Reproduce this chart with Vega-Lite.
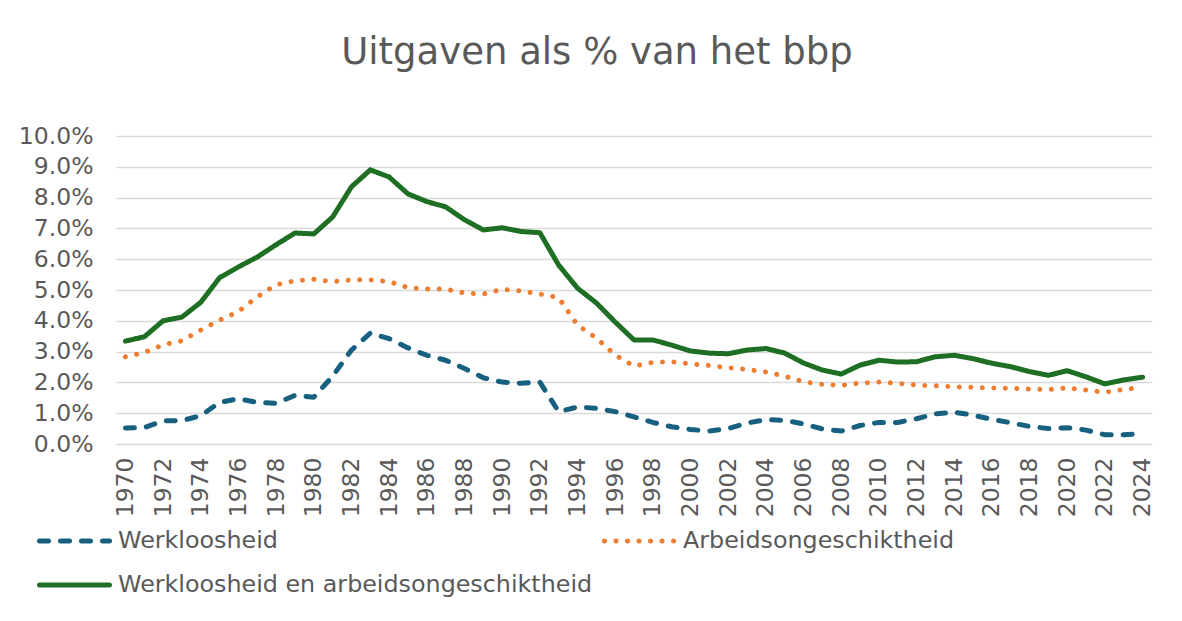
{
  "$schema": "https://vega.github.io/schema/vega-lite/v6.json",
  "autosize": {"type": "none"},
  "width": 1036,
  "height": 308,
  "padding": {"left": 116, "top": 136, "right": 30, "bottom": 177},
  "background": "white",
  "config": {
    "font": "DejaVu Sans",
    "view": {"stroke": null}
  },
  "title": {
    "text": "Uitgaven als % van het bbp",
    "fontSize": 37,
    "fontWeight": "normal",
    "color": "#595959",
    "anchor": "middle",
    "baseline": "alphabetic",
    "offset": 23,
    "dx": -37
  },
  "data": {
    "values": [
      {"jaar":1970,"reeks":"Werkloosheid","waarde":0.52},
      {"jaar":1971,"reeks":"Werkloosheid","waarde":0.53},
      {"jaar":1972,"reeks":"Werkloosheid","waarde":0.75},
      {"jaar":1973,"reeks":"Werkloosheid","waarde":0.76},
      {"jaar":1974,"reeks":"Werkloosheid","waarde":0.92},
      {"jaar":1975,"reeks":"Werkloosheid","waarde":1.35},
      {"jaar":1976,"reeks":"Werkloosheid","waarde":1.47},
      {"jaar":1977,"reeks":"Werkloosheid","waarde":1.35},
      {"jaar":1978,"reeks":"Werkloosheid","waarde":1.32},
      {"jaar":1979,"reeks":"Werkloosheid","waarde":1.58},
      {"jaar":1980,"reeks":"Werkloosheid","waarde":1.52},
      {"jaar":1981,"reeks":"Werkloosheid","waarde":2.2},
      {"jaar":1982,"reeks":"Werkloosheid","waarde":3.05},
      {"jaar":1983,"reeks":"Werkloosheid","waarde":3.6},
      {"jaar":1984,"reeks":"Werkloosheid","waarde":3.42},
      {"jaar":1985,"reeks":"Werkloosheid","waarde":3.12},
      {"jaar":1986,"reeks":"Werkloosheid","waarde":2.88},
      {"jaar":1987,"reeks":"Werkloosheid","waarde":2.72},
      {"jaar":1988,"reeks":"Werkloosheid","waarde":2.45},
      {"jaar":1989,"reeks":"Werkloosheid","waarde":2.15},
      {"jaar":1990,"reeks":"Werkloosheid","waarde":2.01},
      {"jaar":1991,"reeks":"Werkloosheid","waarde":1.97},
      {"jaar":1992,"reeks":"Werkloosheid","waarde":2.01},
      {"jaar":1993,"reeks":"Werkloosheid","waarde":1.05},
      {"jaar":1994,"reeks":"Werkloosheid","waarde":1.2},
      {"jaar":1995,"reeks":"Werkloosheid","waarde":1.16},
      {"jaar":1996,"reeks":"Werkloosheid","waarde":1.05},
      {"jaar":1997,"reeks":"Werkloosheid","waarde":0.88},
      {"jaar":1998,"reeks":"Werkloosheid","waarde":0.7},
      {"jaar":1999,"reeks":"Werkloosheid","waarde":0.56},
      {"jaar":2000,"reeks":"Werkloosheid","waarde":0.47},
      {"jaar":2001,"reeks":"Werkloosheid","waarde":0.42},
      {"jaar":2002,"reeks":"Werkloosheid","waarde":0.5},
      {"jaar":2003,"reeks":"Werkloosheid","waarde":0.68},
      {"jaar":2004,"reeks":"Werkloosheid","waarde":0.79},
      {"jaar":2005,"reeks":"Werkloosheid","waarde":0.77},
      {"jaar":2006,"reeks":"Werkloosheid","waarde":0.65},
      {"jaar":2007,"reeks":"Werkloosheid","waarde":0.49},
      {"jaar":2008,"reeks":"Werkloosheid","waarde":0.42},
      {"jaar":2009,"reeks":"Werkloosheid","waarde":0.6},
      {"jaar":2010,"reeks":"Werkloosheid","waarde":0.7},
      {"jaar":2011,"reeks":"Werkloosheid","waarde":0.7},
      {"jaar":2012,"reeks":"Werkloosheid","waarde":0.82},
      {"jaar":2013,"reeks":"Werkloosheid","waarde":0.98},
      {"jaar":2014,"reeks":"Werkloosheid","waarde":1.03},
      {"jaar":2015,"reeks":"Werkloosheid","waarde":0.94},
      {"jaar":2016,"reeks":"Werkloosheid","waarde":0.8},
      {"jaar":2017,"reeks":"Werkloosheid","waarde":0.69},
      {"jaar":2018,"reeks":"Werkloosheid","waarde":0.57},
      {"jaar":2019,"reeks":"Werkloosheid","waarde":0.5},
      {"jaar":2020,"reeks":"Werkloosheid","waarde":0.53},
      {"jaar":2021,"reeks":"Werkloosheid","waarde":0.45},
      {"jaar":2022,"reeks":"Werkloosheid","waarde":0.3},
      {"jaar":2023,"reeks":"Werkloosheid","waarde":0.3},
      {"jaar":2024,"reeks":"Werkloosheid","waarde":0.33},
      {"jaar":1970,"reeks":"Arbeidsongeschiktheid","waarde":2.83},
      {"jaar":1971,"reeks":"Arbeidsongeschiktheid","waarde":2.97},
      {"jaar":1972,"reeks":"Arbeidsongeschiktheid","waarde":3.22},
      {"jaar":1973,"reeks":"Arbeidsongeschiktheid","waarde":3.35},
      {"jaar":1974,"reeks":"Arbeidsongeschiktheid","waarde":3.7},
      {"jaar":1975,"reeks":"Arbeidsongeschiktheid","waarde":4.02},
      {"jaar":1976,"reeks":"Arbeidsongeschiktheid","waarde":4.3},
      {"jaar":1977,"reeks":"Arbeidsongeschiktheid","waarde":4.78},
      {"jaar":1978,"reeks":"Arbeidsongeschiktheid","waarde":5.17},
      {"jaar":1979,"reeks":"Arbeidsongeschiktheid","waarde":5.3},
      {"jaar":1980,"reeks":"Arbeidsongeschiktheid","waarde":5.35},
      {"jaar":1981,"reeks":"Arbeidsongeschiktheid","waarde":5.27},
      {"jaar":1982,"reeks":"Arbeidsongeschiktheid","waarde":5.33},
      {"jaar":1983,"reeks":"Arbeidsongeschiktheid","waarde":5.33},
      {"jaar":1984,"reeks":"Arbeidsongeschiktheid","waarde":5.27},
      {"jaar":1985,"reeks":"Arbeidsongeschiktheid","waarde":5.08},
      {"jaar":1986,"reeks":"Arbeidsongeschiktheid","waarde":5.03},
      {"jaar":1987,"reeks":"Arbeidsongeschiktheid","waarde":5.03},
      {"jaar":1988,"reeks":"Arbeidsongeschiktheid","waarde":4.9},
      {"jaar":1989,"reeks":"Arbeidsongeschiktheid","waarde":4.87},
      {"jaar":1990,"reeks":"Arbeidsongeschiktheid","waarde":5.02},
      {"jaar":1991,"reeks":"Arbeidsongeschiktheid","waarde":4.97},
      {"jaar":1992,"reeks":"Arbeidsongeschiktheid","waarde":4.87},
      {"jaar":1993,"reeks":"Arbeidsongeschiktheid","waarde":4.75},
      {"jaar":1994,"reeks":"Arbeidsongeschiktheid","waarde":3.86},
      {"jaar":1995,"reeks":"Arbeidsongeschiktheid","waarde":3.44},
      {"jaar":1996,"reeks":"Arbeidsongeschiktheid","waarde":2.89},
      {"jaar":1997,"reeks":"Arbeidsongeschiktheid","waarde":2.53},
      {"jaar":1998,"reeks":"Arbeidsongeschiktheid","waarde":2.65},
      {"jaar":1999,"reeks":"Arbeidsongeschiktheid","waarde":2.67},
      {"jaar":2000,"reeks":"Arbeidsongeschiktheid","waarde":2.6},
      {"jaar":2001,"reeks":"Arbeidsongeschiktheid","waarde":2.55},
      {"jaar":2002,"reeks":"Arbeidsongeschiktheid","waarde":2.48},
      {"jaar":2003,"reeks":"Arbeidsongeschiktheid","waarde":2.42},
      {"jaar":2004,"reeks":"Arbeidsongeschiktheid","waarde":2.34},
      {"jaar":2005,"reeks":"Arbeidsongeschiktheid","waarde":2.2},
      {"jaar":2006,"reeks":"Arbeidsongeschiktheid","waarde":2.02},
      {"jaar":2007,"reeks":"Arbeidsongeschiktheid","waarde":1.94},
      {"jaar":2008,"reeks":"Arbeidsongeschiktheid","waarde":1.9},
      {"jaar":2009,"reeks":"Arbeidsongeschiktheid","waarde":1.98},
      {"jaar":2010,"reeks":"Arbeidsongeschiktheid","waarde":2.01},
      {"jaar":2011,"reeks":"Arbeidsongeschiktheid","waarde":1.97},
      {"jaar":2012,"reeks":"Arbeidsongeschiktheid","waarde":1.91},
      {"jaar":2013,"reeks":"Arbeidsongeschiktheid","waarde":1.89},
      {"jaar":2014,"reeks":"Arbeidsongeschiktheid","waarde":1.86},
      {"jaar":2015,"reeks":"Arbeidsongeschiktheid","waarde":1.84},
      {"jaar":2016,"reeks":"Arbeidsongeschiktheid","waarde":1.82},
      {"jaar":2017,"reeks":"Arbeidsongeschiktheid","waarde":1.81},
      {"jaar":2018,"reeks":"Arbeidsongeschiktheid","waarde":1.78},
      {"jaar":2019,"reeks":"Arbeidsongeschiktheid","waarde":1.77},
      {"jaar":2020,"reeks":"Arbeidsongeschiktheid","waarde":1.82},
      {"jaar":2021,"reeks":"Arbeidsongeschiktheid","waarde":1.75},
      {"jaar":2022,"reeks":"Arbeidsongeschiktheid","waarde":1.68},
      {"jaar":2023,"reeks":"Arbeidsongeschiktheid","waarde":1.77},
      {"jaar":2024,"reeks":"Arbeidsongeschiktheid","waarde":1.84},
      {"jaar":1970,"reeks":"Werkloosheid en arbeidsongeschiktheid","waarde":3.34},
      {"jaar":1971,"reeks":"Werkloosheid en arbeidsongeschiktheid","waarde":3.48},
      {"jaar":1972,"reeks":"Werkloosheid en arbeidsongeschiktheid","waarde":4.0},
      {"jaar":1973,"reeks":"Werkloosheid en arbeidsongeschiktheid","waarde":4.12},
      {"jaar":1974,"reeks":"Werkloosheid en arbeidsongeschiktheid","waarde":4.6},
      {"jaar":1975,"reeks":"Werkloosheid en arbeidsongeschiktheid","waarde":5.4},
      {"jaar":1976,"reeks":"Werkloosheid en arbeidsongeschiktheid","waarde":5.75},
      {"jaar":1977,"reeks":"Werkloosheid en arbeidsongeschiktheid","waarde":6.07},
      {"jaar":1978,"reeks":"Werkloosheid en arbeidsongeschiktheid","waarde":6.47},
      {"jaar":1979,"reeks":"Werkloosheid en arbeidsongeschiktheid","waarde":6.85},
      {"jaar":1980,"reeks":"Werkloosheid en arbeidsongeschiktheid","waarde":6.82},
      {"jaar":1981,"reeks":"Werkloosheid en arbeidsongeschiktheid","waarde":7.37},
      {"jaar":1982,"reeks":"Werkloosheid en arbeidsongeschiktheid","waarde":8.35},
      {"jaar":1983,"reeks":"Werkloosheid en arbeidsongeschiktheid","waarde":8.9},
      {"jaar":1984,"reeks":"Werkloosheid en arbeidsongeschiktheid","waarde":8.67},
      {"jaar":1985,"reeks":"Werkloosheid en arbeidsongeschiktheid","waarde":8.12},
      {"jaar":1986,"reeks":"Werkloosheid en arbeidsongeschiktheid","waarde":7.87},
      {"jaar":1987,"reeks":"Werkloosheid en arbeidsongeschiktheid","waarde":7.7},
      {"jaar":1988,"reeks":"Werkloosheid en arbeidsongeschiktheid","waarde":7.28},
      {"jaar":1989,"reeks":"Werkloosheid en arbeidsongeschiktheid","waarde":6.95},
      {"jaar":1990,"reeks":"Werkloosheid en arbeidsongeschiktheid","waarde":7.02},
      {"jaar":1991,"reeks":"Werkloosheid en arbeidsongeschiktheid","waarde":6.9},
      {"jaar":1992,"reeks":"Werkloosheid en arbeidsongeschiktheid","waarde":6.86},
      {"jaar":1993,"reeks":"Werkloosheid en arbeidsongeschiktheid","waarde":5.81},
      {"jaar":1994,"reeks":"Werkloosheid en arbeidsongeschiktheid","waarde":5.06},
      {"jaar":1995,"reeks":"Werkloosheid en arbeidsongeschiktheid","waarde":4.58},
      {"jaar":1996,"reeks":"Werkloosheid en arbeidsongeschiktheid","waarde":3.96},
      {"jaar":1997,"reeks":"Werkloosheid en arbeidsongeschiktheid","waarde":3.38},
      {"jaar":1998,"reeks":"Werkloosheid en arbeidsongeschiktheid","waarde":3.38},
      {"jaar":1999,"reeks":"Werkloosheid en arbeidsongeschiktheid","waarde":3.21},
      {"jaar":2000,"reeks":"Werkloosheid en arbeidsongeschiktheid","waarde":3.02},
      {"jaar":2001,"reeks":"Werkloosheid en arbeidsongeschiktheid","waarde":2.95},
      {"jaar":2002,"reeks":"Werkloosheid en arbeidsongeschiktheid","waarde":2.93},
      {"jaar":2003,"reeks":"Werkloosheid en arbeidsongeschiktheid","waarde":3.05},
      {"jaar":2004,"reeks":"Werkloosheid en arbeidsongeschiktheid","waarde":3.1},
      {"jaar":2005,"reeks":"Werkloosheid en arbeidsongeschiktheid","waarde":2.95},
      {"jaar":2006,"reeks":"Werkloosheid en arbeidsongeschiktheid","waarde":2.63},
      {"jaar":2007,"reeks":"Werkloosheid en arbeidsongeschiktheid","waarde":2.4},
      {"jaar":2008,"reeks":"Werkloosheid en arbeidsongeschiktheid","waarde":2.27},
      {"jaar":2009,"reeks":"Werkloosheid en arbeidsongeschiktheid","waarde":2.56},
      {"jaar":2010,"reeks":"Werkloosheid en arbeidsongeschiktheid","waarde":2.72},
      {"jaar":2011,"reeks":"Werkloosheid en arbeidsongeschiktheid","waarde":2.66},
      {"jaar":2012,"reeks":"Werkloosheid en arbeidsongeschiktheid","waarde":2.67},
      {"jaar":2013,"reeks":"Werkloosheid en arbeidsongeschiktheid","waarde":2.83},
      {"jaar":2014,"reeks":"Werkloosheid en arbeidsongeschiktheid","waarde":2.88},
      {"jaar":2015,"reeks":"Werkloosheid en arbeidsongeschiktheid","waarde":2.77},
      {"jaar":2016,"reeks":"Werkloosheid en arbeidsongeschiktheid","waarde":2.62},
      {"jaar":2017,"reeks":"Werkloosheid en arbeidsongeschiktheid","waarde":2.51},
      {"jaar":2018,"reeks":"Werkloosheid en arbeidsongeschiktheid","waarde":2.35},
      {"jaar":2019,"reeks":"Werkloosheid en arbeidsongeschiktheid","waarde":2.23},
      {"jaar":2020,"reeks":"Werkloosheid en arbeidsongeschiktheid","waarde":2.38},
      {"jaar":2021,"reeks":"Werkloosheid en arbeidsongeschiktheid","waarde":2.18},
      {"jaar":2022,"reeks":"Werkloosheid en arbeidsongeschiktheid","waarde":1.95},
      {"jaar":2023,"reeks":"Werkloosheid en arbeidsongeschiktheid","waarde":2.08},
      {"jaar":2024,"reeks":"Werkloosheid en arbeidsongeschiktheid","waarde":2.17}
    ]
  },
  "mark": {"type": "line", "strokeWidth": 5, "strokeCap": "round", "strokeJoin": "round"},
  "encoding": {
    "x": {
      "field": "jaar",
      "type": "ordinal",
      "scale": {"type": "point", "padding": 0.5},
      "axis": {
        "title": null,
        "values": [1970,1972,1974,1976,1978,1980,1982,1984,1986,1988,1990,1992,1994,1996,1998,2000,2002,2004,2006,2008,2010,2012,2014,2016,2018,2020,2022,2024],
        "labelAngle": -90,
        "labelFontSize": 23.5,
        "labelColor": "#595959",
        "labelPadding": 13,
        "ticks": false,
        "tickSize": 0,
        "domain": false,
        "grid": false
      }
    },
    "y": {
      "field": "waarde",
      "type": "quantitative",
      "scale": {"domain": [0, 10], "nice": false},
      "axis": {
        "title": null,
        "values": [0,1,2,3,4,5,6,7,8,9,10],
        "labelExpr": "format(datum.value, '.1f') + '%'",
        "labelFontSize": 23.5,
        "labelColor": "#595959",
        "labelPadding": 23,
        "ticks": false,
        "tickSize": 0,
        "domain": false,
        "grid": true,
        "gridColor": "#d9d9d9",
        "gridWidth": 1.5
      }
    },
    "color": {
      "field": "reeks",
      "type": "nominal",
      "scale": {
        "domain": ["Werkloosheid", "Arbeidsongeschiktheid", "Werkloosheid en arbeidsongeschiktheid"],
        "range": ["#17607f", "#ed7d31", "#1e6f24"]
      },
      "legend": {
        "title": null,
        "orient": "none",
        "direction": "horizontal",
        "legendX": -79,
        "legendY": 390,
        "columns": 2,
        "columnPadding": 9,
        "rowPadding": 14,
        "clipHeight": 30,
        "padding": 0,
        "symbolType": "stroke",
        "symbolSize": 4900,
        "symbolStrokeWidth": 5,
        "labelFontSize": 23.8,
        "labelColor": "#595959",
        "labelOffset": 6,
        "labelLimit": 700,
        "encode": {"symbols": {"update": {"strokeCap": {"value": "round"}}}}
      }
    },
    "strokeDash": {
      "field": "reeks",
      "type": "nominal",
      "scale": {
        "domain": ["Werkloosheid", "Arbeidsongeschiktheid", "Werkloosheid en arbeidsongeschiktheid"],
        "range": [[9, 12], [0.01, 11.5], [1, 0]]
      },
      "legend": null
    }
  }
}
